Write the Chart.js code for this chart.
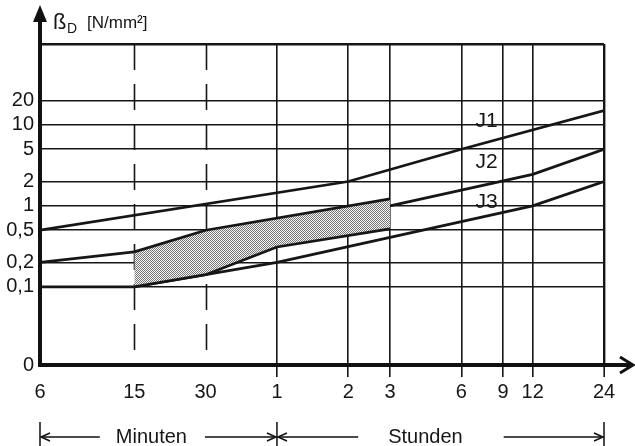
<!DOCTYPE html>
<html>
<head>
<meta charset="utf-8">
<title>Druckfestigkeit über der Zeit</title>
<script src="https://cdn.jsdelivr.net/npm/chart.js@4.4.1/dist/chart.umd.min.js"></script>
<style>
  html, body { margin: 0; padding: 0; background: #fff; }
  #wrap { width: 635px; height: 446px; }
</style>
</head>
<body>
<div id="wrap"><canvas id="chart" width="635" height="446"></canvas></div>
<script>
// Time axis in minutes, with its printed labels (minutes, then hours)
const timeTicks = [6, 15, 30, 60, 120, 180, 360, 540, 720, 1440];
const timeLabels = ['6', '15', '30', '1', '2', '3', '6', '9', '12', '24'];
const dashedTimes = [15, 30];

// Strength axis [N/mm²]
const strengthTicks = [0.1, 0.2, 0.5, 1, 2, 5, 10, 20];
const strengthLabels = ['0,1', '0,2', '0,5', '1', '2', '5', '10', '20'];
const strengthFloor = 0.0108;   // bottom of the log axis, printed as "0"
const strengthTop = 100;

// Curve J1
const j1Time = [6, 120, 360, 1440];
const j1Value = [0.5, 2, 5, 15];
// Curve J2 (its middle part is the upper edge of the shaded band)
const j2StartTime = [6, 15];
const j2StartValue = [0.2, 0.27];
const j2EndTime = [180, 720, 1440];
const j2EndValue = [1.0, 2.45, 5];
// Curve J3
const j3Time = [6, 15, 60, 720, 1440];
const j3Value = [0.1, 0.1, 0.2, 1, 2];
// Shaded band between 15 min and 3 h
const bandTopTime = [15, 30, 180];
const bandTopValue = [0.27, 0.5, 1.22];
const bandLowTime = [15, 30, 60, 180];
const bandLowValue = [0.1, 0.141, 0.31, 0.52];

// Curve names and where they sit (time, strength)
const curveNames = ['J1', 'J2', 'J3'];
const curveNameTime = 460;
const curveNameValue = [11, 3.5, 1.1];

const ink = '#161616';
const FONT = '"Liberation Sans", Arial, Helvetica, sans-serif';

const pts = (xs, ys) => xs.map((x, i) => ({ x, y: ys[i] }));

// fine stipple used for the band
function stipple() {
  const tile = document.createElement('canvas');
  tile.width = 2; tile.height = 2;
  const t = tile.getContext('2d');
  t.fillStyle = '#f4f4f4'; t.fillRect(0, 0, 2, 2);
  t.fillStyle = '#777777'; t.fillRect(0, 0, 1, 1); t.fillRect(1, 1, 1, 1);
  return document.getElementById('chart').getContext('2d').createPattern(tile, 'repeat');
}

const line = (data, extra) => Object.assign({
  data, borderColor: ink, borderWidth: 2.7, pointRadius: 0, tension: 0, fill: false
}, extra || {});

const yTickAll = [strengthFloor, ...strengthTicks, strengthTop];
const yLabelAll = ['0', ...strengthLabels, ''];

function arrowHead(ctx, x, y, dir, len, half) {
  ctx.beginPath();
  ctx.moveTo(x - dir * len, y - half);
  ctx.lineTo(x, y);
  ctx.lineTo(x - dir * len, y + half);
  ctx.stroke();
}

const decorations = {
  id: 'decorations',
  beforeDatasetsDraw(chart) {
    const { ctx, chartArea: a, scales: { x } } = chart;
    ctx.save();
    ctx.strokeStyle = ink;
    ctx.lineWidth = 1.6;
    ctx.setLineDash([26, 14]);
    dashedTimes.forEach(t => {
      const px = Math.round(x.getPixelForValue(t)) + 0.5;
      ctx.beginPath(); ctx.moveTo(px, a.top); ctx.lineTo(px, a.bottom); ctx.stroke();
    });
    ctx.restore();
  },
  afterDraw(chart) {
    const { ctx, chartArea: a, scales: { x, y } } = chart;
    ctx.save();
    ctx.strokeStyle = '#111';
    ctx.fillStyle = '#111';

    // axes with arrows
    ctx.lineWidth = 4;
    ctx.beginPath();
    ctx.moveTo(a.left, a.bottom + 2); ctx.lineTo(a.left, 12);
    ctx.moveTo(a.left - 2, a.bottom); ctx.lineTo(630, a.bottom);
    ctx.stroke();
    ctx.beginPath();
    ctx.moveTo(a.left, 5); ctx.lineTo(a.left - 7, 22); ctx.lineTo(a.left + 7, 22);
    ctx.closePath(); ctx.fill();
    ctx.lineWidth = 3;
    ctx.lineJoin = 'miter';
    arrowHead(ctx, 633, a.bottom, 1, 13, 8);

    // axis title
    ctx.fillStyle = ink;
    ctx.textBaseline = 'alphabetic';
    ctx.textAlign = 'left';
    ctx.font = '22px ' + FONT;
    ctx.fillText('ß', 53, 29);
    ctx.font = '14px ' + FONT;
    ctx.fillText('D', 67, 33);
    ctx.font = '17px ' + FONT;
    ctx.fillText('[N/mm²]', 87, 28);

    // curve names
    ctx.font = '21px ' + FONT;
    ctx.textAlign = 'center';
    ctx.textBaseline = 'middle';
    curveNames.forEach((n, i) => {
      ctx.fillText(n, x.getPixelForValue(curveNameTime), y.getPixelForValue(curveNameValue[i]));
    });

    // Minuten / Stunden ranges
    const x0 = x.getPixelForValue(6), x1 = x.getPixelForValue(60), x2 = x.getPixelForValue(1440);
    const yb = 437;
    ctx.lineWidth = 1.5;
    ctx.beginPath();
    [x0, x1, x2].forEach(px => { ctx.moveTo(px, 422); ctx.lineTo(px, 446); });
    ctx.stroke();
    ctx.font = '20px ' + FONT;
    const spans = [
      { text: 'Minuten', from: x0, to: x1, at: 0.47, gapL: 16, gapR: 18 },
      { text: 'Stunden', from: x1, to: x2, at: 0.454, gapL: 30, gapR: 41 }
    ];
    spans.forEach(s => {
      const cx = s.from + (s.to - s.from) * s.at;
      const w = ctx.measureText(s.text).width;
      ctx.fillText(s.text, cx, yb);
      ctx.beginPath();
      ctx.moveTo(s.from + 2, yb); ctx.lineTo(cx - w / 2 - s.gapL, yb);
      ctx.moveTo(cx + w / 2 + s.gapR, yb); ctx.lineTo(s.to - 2, yb);
      ctx.stroke();
      arrowHead(ctx, s.from + 1, yb, -1, 9, 4);
      arrowHead(ctx, s.to - 1, yb, 1, 9, 4);
    });
    ctx.restore();
  }
};

new Chart(document.getElementById('chart'), {
  type: 'line',
  data: {
    datasets: [
      line(pts(bandLowTime, bandLowValue)),
      line(pts(bandTopTime, bandTopValue), { fill: '-1', backgroundColor: stipple() }),
      line(pts(j1Time, j1Value)),
      line(pts(j2StartTime, j2StartValue)),
      line(pts(j2EndTime, j2EndValue)),
      line(pts(j3Time, j3Value))
    ]
  },
  options: {
    responsive: false,
    animation: false,
    devicePixelRatio: 1,
    layout: { padding: { top: 44, right: 31, left: 0, bottom: 0 } },
    plugins: { legend: { display: false }, tooltip: { enabled: false }, title: { display: false } },
    scales: {
      x: {
        type: 'logarithmic',
        min: 6,
        max: 1440,
        afterBuildTicks: s => { s.ticks = timeTicks.map(v => ({ value: v })); },
        afterFit: s => { s.height = 81; },
        border: { display: false },
        grid: {
          color: c => (c.tick && [6, ...dashedTimes].includes(c.tick.value)) ? 'rgba(0,0,0,0)' : ink,
          lineWidth: c => (c.tick && c.tick.value === 1440) ? 2.4 : 1.6,
          drawTicks: true,
          tickLength: 12,
          tickWidth: 1.6,
          tickColor: c => (c.tick && [6, ...dashedTimes].includes(c.tick.value)) ? 'rgba(0,0,0,0)' : ink
        },
        ticks: {
          autoSkip: false,
          maxRotation: 0,
          padding: 3,
          color: ink,
          font: { family: FONT, size: 20 },
          callback: (v, i) => timeLabels[i]
        }
      },
      y: {
        type: 'logarithmic',
        min: strengthFloor,
        max: strengthTop,
        afterBuildTicks: s => { s.ticks = yTickAll.map(v => ({ value: v })); },
        afterFit: s => { s.width = 40; },
        border: { display: false },
        grid: {
          color: c => (c.tick && c.tick.value === strengthFloor) ? 'rgba(0,0,0,0)' : ink,
          lineWidth: c => (c.tick && c.tick.value === strengthTop) ? 2.4 : 1.6,
          drawTicks: false
        },
        ticks: {
          autoSkip: false,
          padding: 6,
          color: ink,
          font: { family: FONT, size: 20 },
          callback: (v, i) => yLabelAll[i]
        }
      }
    }
  },
  plugins: [decorations]
});
</script>
</body>
</html>
